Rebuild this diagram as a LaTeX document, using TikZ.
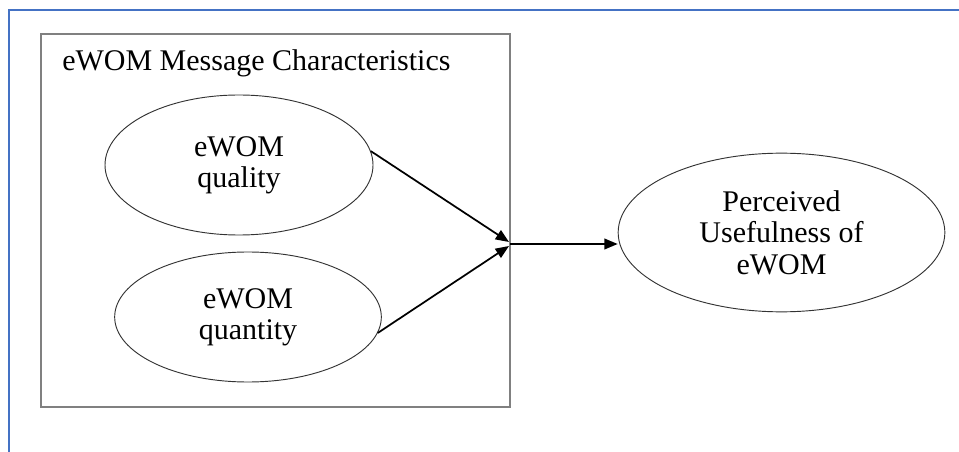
\documentclass[tikz,border=0pt]{standalone}
\usepackage{fontspec}
\setmainfont{Liberation Serif}
\usetikzlibrary{shapes.geometric,arrows.meta}
\definecolor{frameblue}{RGB}{68,114,196}
\begin{document}
\begin{tikzpicture}[x=0.75pt,y=-0.75pt,
  ell/.style={ellipse,draw=black!80,line width=0.7pt,inner sep=0pt,align=center,
    font=\fontsize{22.5}{23.5}\selectfont},
  arr/.style={line width=1.3pt,-{Triangle[length=10pt,width=8pt]}},
]
\useasboundingbox (0,0) rectangle (959,452);
% blue page frame
\draw[frameblue,line width=1.6pt] (9,452) coordinate (fa) -- (9,10) coordinate (fb) -- (960,10) coordinate (fc);
% grey group box
\node[draw=black!50,line width=1.5pt,minimum width=351.75pt,minimum height=279.75pt,inner sep=0pt] (box) at (275.5,220.5) {};
\node[anchor=base west,inner sep=0pt,font=\fontsize{22.5}{23.5}\selectfont] (title) at (62,71) {eWOM Message Characteristics};
% ellipses
\node[ell,minimum width=201pt,minimum height=105pt] (q) at (239,165) {eWOM\\quality};
\node[ell,minimum width=200pt,minimum height=97.5pt] (n) at (248,317) {eWOM\\quantity};
\node[ell,minimum width=245pt,minimum height=119pt] (p) at (781.5,232.5) {Perceived\\Usefulness of\\eWOM};
% junction on box edge
\coordinate (j) at (510,244);
\coordinate (jt) at (509,242);
\coordinate (jb) at (509,246);
\draw[arr] (q.6) -- (jt);
\draw[arr] (n.-7) -- (jb);
\draw[arr] (j) -- (j -| p.west);
\end{tikzpicture}
\end{document}
